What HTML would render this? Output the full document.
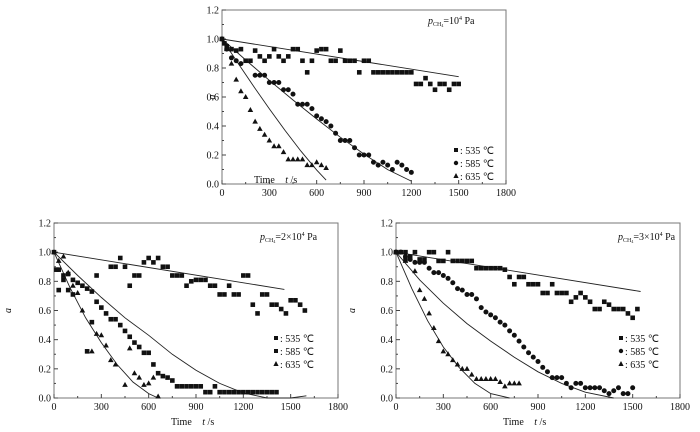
<!DOCTYPE html>
<html><head><meta charset="utf-8">
<style>
body{margin:0;background:#fff;width:700px;height:432px;overflow:hidden}
svg{position:absolute;left:0;top:0}
text{font-family:"Liberation Serif",serif;fill:#111}
</style></head>
<body>
<svg id="chart" width="700" height="432"></svg>
<script>
// ---- Panel A (top) data: 10^4 Pa ----
const tickX=[0,300,600,900,1200,1500,1800];
const tickY=[0.0,0.2,0.4,0.6,0.8,1.0,1.2];
const A535t=[0,15,30,60,90,120,150,180,210,240,270,300,330,360,390,420,450,480,510,540,570,600,630,660,690,720,750,780,810,840,870,900,930,960,990,1020,1050,1080,1110,1140,1170,1200,1230,1260,1290,1320,1350,1380,1410,1440,1470,1500];
const A535a=[1.0,0.97,0.95,0.93,0.92,0.93,0.85,0.85,0.92,0.88,0.85,0.88,0.93,0.88,0.85,0.88,0.93,0.93,0.85,0.77,0.85,0.92,0.93,0.93,0.85,0.85,0.92,0.85,0.85,0.85,0.77,0.85,0.85,0.77,0.77,0.77,0.77,0.77,0.77,0.77,0.77,0.77,0.69,0.69,0.73,0.69,0.65,0.69,0.69,0.65,0.69,0.69];
const A585t=[0,30,60,90,120,210,240,270,300,330,360,390,420,450,480,510,540,570,600,630,660,690,720,750,780,810,840,870,900,930,960,990,1020,1050,1080,1110,1140,1170,1200];
const A585a=[1.0,0.93,0.87,0.85,0.83,0.75,0.75,0.75,0.70,0.70,0.70,0.65,0.65,0.62,0.55,0.55,0.55,0.52,0.47,0.45,0.43,0.40,0.35,0.30,0.30,0.30,0.25,0.20,0.20,0.20,0.15,0.13,0.15,0.13,0.10,0.15,0.13,0.10,0.08];
const A635t=[0,30,60,90,120,150,180,210,240,270,300,330,360,390,420,450,480,510,540,570,600,630,660];
const A635a=[1.0,0.93,0.83,0.72,0.64,0.60,0.51,0.43,0.38,0.34,0.30,0.26,0.26,0.22,0.17,0.17,0.17,0.17,0.13,0.13,0.15,0.13,0.11];
const AL1t=[0,1500], AL1a=[1.0,0.74];
const AL2t=[0,150,300,450,600,750,900,1050,1200], AL2a=[1,0.855,0.715,0.579,0.448,0.323,0.206,0.099,0.02];
const AL3t=[0,100,200,300,400,500,600,660], AL3a=[1,0.835,0.674,0.519,0.369,0.227,0.096,0.027];
// ---- Panel B (bottom-left) 2x10^4 Pa ----
const B535t=[0,30,60,270,360,390,420,450,480,510,540,570,600,630,660,690,720,750,780,810,840,870,900,930,960,990,1020,1050,1080,1110,1140,1170,1200,1230,1260,1290,1320,1350,1380,1410,1440,1470,1500,1530,1560,1590];
const B535a=[1.0,0.88,0.84,0.84,0.90,0.90,0.96,0.90,0.77,0.84,0.84,0.93,0.96,0.93,0.96,0.90,0.90,0.84,0.84,0.84,0.77,0.80,0.81,0.81,0.81,0.77,0.77,0.71,0.71,0.77,0.71,0.71,0.84,0.84,0.64,0.58,0.71,0.71,0.64,0.64,0.61,0.58,0.67,0.67,0.64,0.60];
const B585t=[15,30,60,90,90,120,120,150,180,210,210,240,240,270,300,330,360,390,420,450,480,510,540,570,600,630,660,690,720,750,780,810,840,870,900,930,960,990,1020,1050,1080,1110,1140,1170,1200,1230,1260,1290,1320,1350,1380,1410];
const B585a=[0.88,0.74,0.81,0.74,0.85,0.71,0.81,0.79,0.77,0.75,0.32,0.73,0.52,0.66,0.62,0.58,0.54,0.54,0.50,0.46,0.42,0.38,0.35,0.31,0.31,0.23,0.17,0.15,0.14,0.12,0.08,0.08,0.08,0.08,0.08,0.08,0.04,0.04,0.08,0.04,0.04,0.04,0.04,0.04,0.04,0.04,0.04,0.04,0.04,0.04,0.04,0.04];
const B635t=[0,30,60,90,120,150,180,240,270,300,330,360,390,450,480,510,540,570,600,630,660];
const B635a=[1.0,0.94,0.97,0.86,0.77,0.72,0.60,0.32,0.44,0.43,0.36,0.26,0.23,0.09,0.34,0.17,0.14,0.09,0.10,0.14,0.01];
const BL1t=[0,1460], BL1a=[1.0,0.745];
const BL2t=[0,150,300,450,600,750,900,1050,1200,1350,1500,1600], BL2a=[1,0.84,0.69,0.55,0.43,0.30,0.19,0.10,0.035,0.0,0.0,0.015];
const BL3t=[0,100,200,300,400,500,600,660], BL3a=[1,0.76,0.55,0.38,0.23,0.11,0.03,0.0];
// ---- Panel C (bottom-right) 3x10^4 Pa ----
const C535t=[0,30,60,60,90,120,150,180,210,240,270,300,330,360,390,420,450,480,510,540,570,600,630,660,690,720,750,780,810,840,870,900,930,960,990,1020,1050,1080,1110,1140,1170,1200,1230,1260,1290,1320,1350,1380,1410,1440,1470,1500,1530];
const C535a=[1.0,1.0,0.95,1.0,0.97,1.0,0.95,0.95,1.0,1.0,0.94,0.94,1.0,0.94,0.94,0.94,0.94,0.94,0.89,0.89,0.89,0.89,0.89,0.89,0.88,0.83,0.78,0.83,0.83,0.78,0.78,0.78,0.72,0.72,0.78,0.72,0.72,0.72,0.66,0.69,0.72,0.69,0.66,0.61,0.61,0.66,0.64,0.61,0.61,0.61,0.58,0.55,0.61];
const C585t=[0,30,60,90,120,150,180,210,240,270,300,330,360,390,420,450,480,510,540,570,600,630,660,690,720,750,780,810,840,870,900,930,960,990,1020,1050,1080,1110,1140,1170,1200,1230,1260,1290,1320,1350,1380,1410,1440,1470,1500];
const C585a=[1.0,1.0,0.97,0.95,0.93,0.93,0.93,0.89,0.86,0.86,0.84,0.82,0.79,0.75,0.74,0.71,0.71,0.68,0.62,0.59,0.57,0.55,0.52,0.50,0.46,0.43,0.39,0.35,0.31,0.28,0.25,0.21,0.18,0.14,0.14,0.14,0.10,0.07,0.10,0.10,0.07,0.07,0.07,0.07,0.05,0.03,0.05,0.07,0.03,0.03,0.07];
const C635t=[0,60,120,150,180,210,240,270,300,330,360,390,420,450,480,510,540,570,600,630,660,690,720,750,780];
const C635a=[1.0,0.94,0.87,0.74,0.68,0.58,0.48,0.39,0.32,0.30,0.26,0.23,0.20,0.20,0.16,0.13,0.13,0.13,0.13,0.13,0.11,0.08,0.10,0.10,0.10];
const CL1t=[0,1550], CL1a=[1.0,0.73];
const CL2t=[0,150,300,450,600,750,900,1050,1200,1380], CL2a=[1,0.81,0.65,0.51,0.39,0.28,0.18,0.10,0.04,0.0];
const CL3t=[0,100,200,300,400,500,600,720], CL3a=[1,0.75,0.53,0.35,0.21,0.10,0.03,0.0];

const NS='http://www.w3.org/2000/svg';
const svg=document.getElementById('chart');
function mk(tag,attrs,parent){const e=document.createElementNS(NS,tag);for(const k in attrs)e.setAttribute(k,attrs[k]);(parent||svg).appendChild(e);return e;}

function panel(cfg){
  const g=mk('g',{});
  
  
  const sx=t=>cfg.x0+(t/1800)*(cfg.x1-cfg.x0);
  const sy=a=>cfg.y0-(a/1.2)*(cfg.y0-cfg.y1);
  const frame=mk('rect',{x:cfg.x0,y:cfg.y1,width:cfg.x1-cfg.x0,height:cfg.y0-cfg.y1,fill:'none',stroke:'#777','stroke-width':1},g);
  
  
  tickX.forEach((v,i)=>{
    const x=sx(v);
    mk('line',{x1:x,y1:cfg.y0,x2:x,y2:cfg.y0-4,stroke:'#444'},g);
    if(i<tickX.length-1){const xm=sx(v+150);mk('line',{x1:xm,y1:cfg.y0,x2:xm,y2:cfg.y0-2,stroke:'#444'},g);}
    const t=mk('text',{x:x,y:cfg.y0+12,'font-size':10,'text-anchor':'middle'},g);t.textContent=v;
    
    
  });
  tickY.forEach((v,i)=>{
    const y=sy(v);
    mk('line',{x1:cfg.x0,y1:y,x2:cfg.x0+4,y2:y,stroke:'#444'},g);
    if(i<tickY.length-1){const ym=sy(v+0.1);mk('line',{x1:cfg.x0,y1:ym,x2:cfg.x0+2,y2:ym,stroke:'#444'},g);}
    const t=mk('text',{x:cfg.x0-3,y:y+3.5,'font-size':10,'text-anchor':'end'},g);t.textContent=v.toFixed(1);
    
    
  });
  const yt=mk('text',{x:cfg.yx,y:(cfg.y0+cfg.y1)/2,'font-size':10,'font-style':'italic','text-anchor':'middle',transform:`rotate(-90 ${cfg.yx} ${(cfg.y0+cfg.y1)/2})`},g);
  yt.textContent='a';
  
  
  const xt=mk('text',{x:cfg.xtx,y:cfg.xty,'font-size':10},g);
  xt.innerHTML='Time <tspan dx="8" font-style="italic">t</tspan> /s';
  
  
  const an=mk('text',{x:cfg.ax,y:cfg.ay,'font-size':10},g);
  an.innerHTML='<tspan font-style="italic">p</tspan><tspan font-size="6" dy="2">CH</tspan><tspan font-size="4" dy="1">4</tspan><tspan dy="-3">='+cfg.ptxt+'10</tspan><tspan font-size="6" dy="-4">4</tspan><tspan dy="4"> Pa</tspan>';
  
  
  cfg.lines.forEach(([ts,as])=>{
    const pts=ts.map((t,i)=>sx(t).toFixed(1)+','+sy(as[i]).toFixed(1)).join(' ');
    const l=mk('polyline',{points:pts,fill:'none',stroke:'#222','stroke-width':0.9},g);
    
    
  });
  cfg.series.forEach(([ts,as,shape])=>{
    ts.forEach((t,i)=>{
      const x=sx(t),y=sy(as[i]);let m;
      if(shape==='s')m=mk('rect',{x:x-2.3,y:y-2.3,width:4.6,height:4.6,fill:'#111'},g);
      else if(shape==='c')m=mk('circle',{cx:x,cy:y,r:2.5,fill:'#111'},g);
      else m=mk('polygon',{points:`${x},${y-3} ${x-2.8},${y+2} ${x+2.8},${y+2}`,fill:'#111'},g);
      
      
    });
  });
  cfg.legend.forEach(([shape,lab],i)=>{
    const y=cfg.ly+i*13,x=cfg.lx;
    if(shape==='s')mk('rect',{x:x-2,y:y-6,width:4,height:4,fill:'#111'},g);
    else if(shape==='c')mk('circle',{cx:x,cy:y-4,r:2.2,fill:'#111'},g);
    else mk('polygon',{points:`${x},${y-7} ${x-2.6},${y-2} ${x+2.6},${y-2}`,fill:'#111'},g);
    const t=mk('text',{x:x+4,y:y,'font-size':10},g);t.textContent=': '+lab+' ℃';
    
    
  });
}
panel({name:'panel-1e4-pa',x0:222,x1:506,y0:184,y1:10,yx:215,xtx:254,xty:183,ax:428,ay:24,ptxt:'',
  lines:[[AL1t,AL1a],[AL2t,AL2a],[AL3t,AL3a]],
  series:[[A535t,A535a,'s'],[A585t,A585a,'c'],[A635t,A635a,'t']],
  legend:[['s','535'],['c','585'],['t','635']],lx:456,ly:154});
panel({name:'panel-2e4-pa',x0:54,x1:338,y0:398,y1:223,yx:11,xtx:171,xty:425,ax:260,ay:240,ptxt:'2×',
  lines:[[BL1t,BL1a],[BL2t,BL2a],[BL3t,BL3a]],
  series:[[B535t,B535a,'s'],[B585t,B585a,'s'],[B635t,B635a,'t']],
  legend:[['s','535'],['s','585'],['t','635']],lx:276,ly:342});
panel({name:'panel-3e4-pa',x0:396,x1:680,y0:398,y1:223,yx:355,xtx:503,xty:425,ax:618,ay:240,ptxt:'3×',
  lines:[[CL1t,CL1a],[CL2t,CL2a],[CL3t,CL3a]],
  series:[[C535t,C535a,'s'],[C585t,C585a,'c'],[C635t,C635a,'t']],
  legend:[['s','535'],['c','585'],['t','635']],lx:621,ly:342});
</script>
</body></html>
